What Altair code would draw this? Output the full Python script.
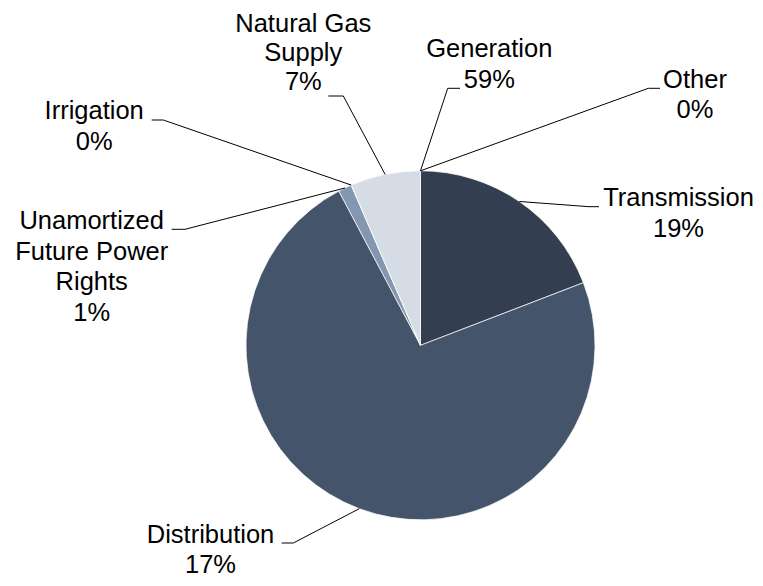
import altair as alt
import pandas as pd

# ---------------- data ----------------
categories = ["Generation", "Other", "Transmission", "Distribution",
              "Unamortized Future Power Rights", "Irrigation", "Natural Gas Supply"]
# share of the circle that each slice actually occupies in the drawing (%)
slice_share = [0.0, 0.0, 19.16, 73.09, 1.26, 0.0, 6.49]
# percentages printed in the data labels
label_pct = ["59%", "0%", "19%", "17%", "1%", "0%", "7%"]
# label text lines (category name wrapped as in the picture)
label_lines = [["Generation"], ["Other"], ["Transmission"], ["Distribution"],
               ["Unamortized", "Future Power", "Rights"], ["Irrigation"],
               ["Natural Gas", "Supply"]]

# ---------------- styling / layout ----------------
colors = ["#2B3544", "#5B6B82", "#333F50", "#44546A", "#8497B0", "#ADB9CA", "#D6DCE5"]
CX, CY, R = 420.5, 345.3, 174.5          # pie centre and radius (page px)
FONT, FS = "Liberation Sans", 25.5
label_cx   = [489.3, 695.0, 678.5, 210.5, 91.7, 94.2, 303.3]
label_base = [57.0, 88.3, 206.0, 543.0, 228.8, 118.5, 31.5]
label_lh   = [30.7, 30.0, 31.0, 29.5, 30.8, 31.0, 29.0]
elbow_x    = [447.7, 648.3, 589.0, 293.3, 185.0, 163.3, 343.3]
elbow_y    = [88.3, 88.3, 206.7, 543.0, 229.3, 120.0, 96.0]
tail_x     = [460.0, 660.0, 599.0, 281.7, 171.7, 151.7, 328.3]

df = pd.DataFrame({
    "category": categories,
    "share": slice_share,
    "order": list(range(len(categories))),
    "ex": elbow_x, "ey": elbow_y, "tx": tail_x,
})

rows = []
for cat, lines, pct, cx, by, lh in zip(categories, label_lines, label_pct,
                                       label_cx, label_base, label_lh):
    for i, t in enumerate(lines + [pct]):
        rows.append({"category": cat, "text": t, "lx": cx, "ly": by + i * lh})
labels = pd.DataFrame(rows)

xs = alt.Scale(domain=[8, 755], nice=False, zero=False)
ys = alt.Scale(domain=[8, 578], nice=False, zero=False, reverse=True)

arcs = alt.Chart(df).mark_arc(outerRadius=R, stroke="white", strokeWidth=0.7).encode(
    theta=alt.Theta("share:Q", stack=True),
    order=alt.Order("order:Q"),
    color=alt.Color("category:N", scale=alt.Scale(domain=categories, range=colors), legend=None),
    x=alt.XDatum(CX, scale=xs, axis=None),
    y=alt.YDatum(CY, scale=ys, axis=None),
)

anchored = alt.Chart(df).transform_window(
    cum="sum(share)", sort=[alt.SortField("order")], frame=[None, 0]
).transform_joinaggregate(
    total="sum(share)"
).transform_calculate(
    ang="2*PI*(datum.cum - datum.share/2)/datum.total"
).transform_calculate(
    ax=f"{CX} + {R}*sin(datum.ang)",
    ay=f"{CY} - {R}*cos(datum.ang)",
)

leader1 = anchored.mark_rule(color="#000000", strokeWidth=1).encode(
    x=alt.X("ax:Q", scale=xs, axis=None),
    y=alt.Y("ay:Q", scale=ys, axis=None),
    x2="ex:Q", y2="ey:Q",
)
leader2 = alt.Chart(df).mark_rule(color="#000000", strokeWidth=1).encode(
    x=alt.X("ex:Q", scale=xs, axis=None),
    x2="tx:Q",
    y=alt.Y("ey:Q", scale=ys, axis=None),
)

text = alt.Chart(labels).mark_text(
    font=FONT, fontSize=FS, color="#000000", align="center", baseline="alphabetic"
).encode(
    x=alt.X("lx:Q", scale=xs, axis=None),
    y=alt.Y("ly:Q", scale=ys, axis=None),
    text="text:N",
)

chart = alt.layer(arcs, leader1, leader2, text).properties(
    width=747, height=570,
    autosize=alt.AutoSizeParams(type="none"),
    padding=0,
).configure_view(stroke=None)

chart.save("out.html", embed_options={"renderer": "svg", "actions": False})
